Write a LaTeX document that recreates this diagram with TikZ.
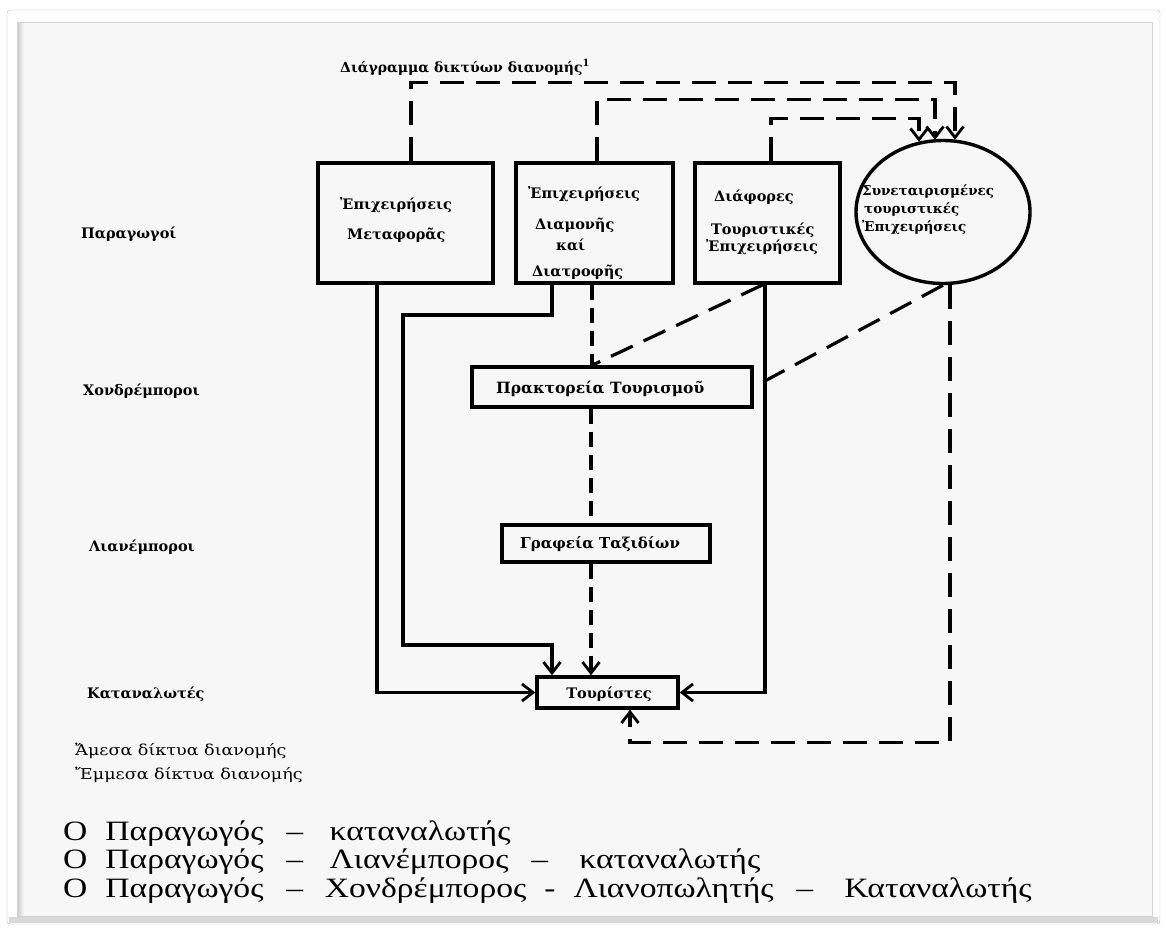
\documentclass[tikz,border=0pt]{standalone}
\usepackage{fontspec}
\usepackage{graphicx}
\setmainfont{Liberation Serif}
\newfontfamily\dg{DejaVu Serif}
\usetikzlibrary{arrows.meta,shapes.geometric}
\definecolor{panel}{RGB}{247,247,247}
\begin{document}
\begin{tikzpicture}[x=1pt,y=-1pt,
  sline/.style={line width=3.2pt, line join=miter},
  dline/.style={line width=3.2pt, dash pattern=on 24pt off 12pt},
  dshort/.style={line width=3.2pt, dash pattern=on 15pt off 8pt},
  arr/.style={-{Straight Barb[length=11pt,width=17pt,line width=2.8pt]}},
  boxn/.style={draw, line width=3.4pt, inner sep=0pt},
  lbl/.style={font=\dg\bfseries\fontsize{14.5}{18}\selectfont, anchor=base west, inner sep=0pt},
  lbls/.style={anchor=base west, inner sep=0pt, font=\dg\fontsize{15}{16}\selectfont},
  leg/.style={font=\fontsize{28}{30}\selectfont, anchor=base west, inner sep=0pt}
]
\useasboundingbox (0,0) rectangle (1166,929);
% frame
\fill[white] (0,0) rectangle (1166,929);
\draw[gray!60, fill=white, rounded corners=3pt] (7,10) rectangle (1160,924);
\fill[gray!30] (9,917) rectangle (1158,923);
\fill[panel] (17,22) rectangle (1152,916);
\shade[left color=gray!40, right color=panel] (17,22) rectangle (24,916);
\draw[gray!35] (17,22) rectangle (1152,916);

% title
\node[lbl, font=\dg\bfseries\fontsize{14}{16}\selectfont] (title) at (340,72) {Διάγραμμα δικτύων διανομής\textsuperscript{1}};

% boxes
\node[boxn, minimum width=175pt, minimum height=120pt] (b1) at (405.5,223) {};
\node[boxn, minimum width=157pt, minimum height=120pt] (b2) at (594.5,223) {};
\node[boxn, minimum width=145pt, minimum height=120pt] (b3) at (767.5,223) {};
\node[boxn, ellipse, minimum width=174pt, minimum height=143pt] (circ) at (943,212) {};
\node[boxn, minimum width=280pt, minimum height=40pt] (prak) at (612,387) {};
\node[boxn, minimum width=208pt, minimum height=37pt] (graf) at (606,543.5) {};
\node[boxn, minimum width=141pt, minimum height=31pt] (tour) at (607.5,692.5) {};

% box texts
\node[lbl] (t11) at (340,209) {Ἐπιχειρήσεις};
\node[lbl] (t12) at (347,239) {Μεταφορᾶς};
\node[lbl] (t21) at (528,198) {Ἐπιχειρήσεις};
\node[lbl] (t22) at (535,229) {Διαμονῆς};
\node[lbl] (t23) at (556,250) {καί};
\node[lbl] (t24) at (532,276) {Διατροφῆς};
\node[lbl] (t31) at (714,201) {Διάφορες};
\node[lbl] (t32) at (711,234) {Τουριστικές};
\node[lbl] (t33) at (706,251) {Ἐπιχειρήσεις};
\node[lbl, font=\dg\bfseries\fontsize{13.5}{16}\selectfont] (t41) at (862,195) {Συνεταιρισμένες};
\node[lbl, font=\dg\bfseries\fontsize{13.5}{16}\selectfont] (t42) at (864,213) {τουριστικές};
\node[lbl, font=\dg\bfseries\fontsize{13.5}{16}\selectfont] (t43) at (862,231) {Ἐπιχειρήσεις};
\node[lbl, font=\dg\bfseries\fontsize{15.5}{18}\selectfont] (t5) at (496,393) {Πρακτορεία Τουρισμοῦ};
\node[lbl, font=\dg\bfseries\fontsize{15}{18}\selectfont] (t6) at (520,548) {Γραφεία Ταξιδίων};
\node[lbl, anchor=base] (t7) at (609,698) {Τουρίστες};

% left labels
\node[lbl] (l1) at (81,238) {Παραγωγοί};
\node[lbl] (l2) at (83,395) {Χονδρέμποροι};
\node[lbl] (l3) at (89,551) {Λιανέμποροι};
\node[lbl] (l4) at (87,698) {Καταναλωτές};
\node[lbls] (l5) at (75,755) {\scalebox{1.17}[1]{Ἄμεσα δίκτυα διανομής}};
\node[lbls] (l6) at (75,779) {\scalebox{1.17}[1]{Ἔμμεσα δίκτυα διανομής}};

% legend
\node[leg] (g1) at (63,840) {\scalebox{1.2}[1]{O\hspace{15pt}Παραγωγός\hspace{19pt}–\hspace{22pt}καταναλωτής}};
\node[leg] (g2) at (63,868) {\scalebox{1.2}[1]{O\hspace{15pt}Παραγωγός\hspace{19pt}–\hspace{22pt}Λιανέμπορος\hspace{19pt}–\hspace{26pt}καταναλωτής}};
\node[leg] (g3) at (63,897) {\scalebox{1.2}[1]{O\hspace{15pt}Παραγωγός\hspace{19pt}–\hspace{18pt}Χονδρέμπορος\hspace{15pt}-\hspace{15pt}Λιανοπωλητής\hspace{19pt}–\hspace{26pt}Καταναλωτής}};

% top dashed connectors
\draw[dline,arr] ([xshift=5.5pt]b1.north) -- ++(0,-79) -| ([xshift=12pt,yshift=-1pt]circ.north);
\draw[dline,arr] ([xshift=2.5pt]b2.north) -- ++(0,-62) -| ([xshift=-8pt,yshift=-1pt]circ.north);
\draw[dline,arr] ([xshift=3.5pt]b3.north) -- ++(0,-43) -| ([xshift=-24pt,yshift=-3pt]circ.north);

% solid connectors
\coordinate (k1) at (403,315);
\coordinate (k2) at (403,645);
\draw[sline,arr] ([xshift=-28.5pt]b1.south) |- (tour.west);
\draw[sline,arr] ([xshift=-42.5pt]b2.south) |- (k1) -- (k2) -| ([xshift=-55.5pt]tour.north);
\draw[sline,arr] ([xshift=-2.5pt]b3.south) |- (tour.east);

% dashed connectors
\draw[dshort] ([xshift=-2.5pt]b2.south) -- ([xshift=-20pt]prak.north);
\draw[dline] ([xshift=-4.5pt]b3.south) -- ([xshift=-20pt]prak.north);
\draw[dline] (circ.south) -- (prak.east);
\draw[dline,arr] ([xshift=7pt]circ.south) -- ++(0,457) -| ([xshift=22.5pt]tour.south);
\draw[dshort] ([xshift=-21pt]prak.south) -- ([xshift=-15pt]graf.north);
\draw[dshort,arr] ([xshift=-15pt]graf.south) -- ([xshift=-16.5pt]tour.north);
\end{tikzpicture}
\end{document}
